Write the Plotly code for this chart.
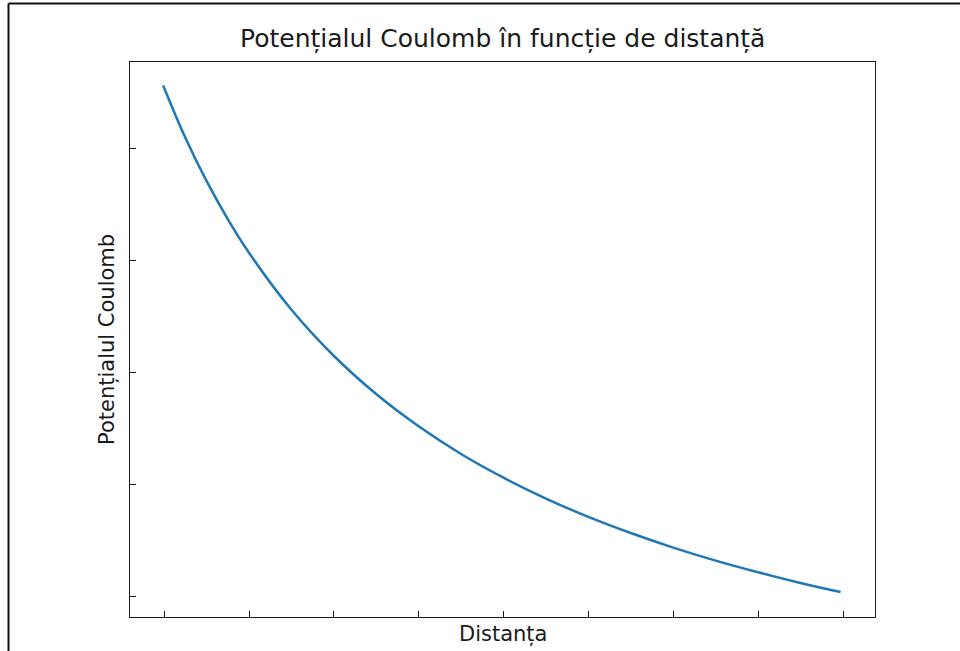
import plotly.graph_objects as go

# Distance samples (axis units, ticks at 1..9) and the potential
distance = [0.99, 1.25, 1.5, 1.75, 2.0, 2.5, 3.0, 3.5, 4.0, 4.5, 5.0,
            5.5, 6.0, 6.5, 7.0, 7.5, 8.0, 8.5, 8.96]
potential = [5.559, 5.094, 4.706, 4.366, 4.065, 3.556, 3.143, 2.801, 2.513,
             2.266, 2.054, 1.868, 1.704, 1.560, 1.430, 1.314, 1.210, 1.114, 1.035]

x_ticks = [1, 2, 3, 4, 5, 6, 7, 8, 9]
y_ticks = [1, 2, 3, 4, 5]

title_text = "Potențialul Coulomb în funcție de distanță"
x_label = "Distanța"
y_label = "Potențialul Coulomb"

FONT = "DejaVu Sans"
L, R, T, B = 130, 85, 62, 34
W, H = 960, 651
PW, PH = W - L - R, H - T - B


def px(x):
    return (x - L) / PW


def py(y):
    return (H - B - y) / PH


fig = go.Figure()
fig.add_trace(go.Scatter(
    x=distance, y=potential, mode="lines",
    line=dict(color="#1f77b4", width=2.5, shape="spline"),
    showlegend=False, hoverinfo="skip",
))

axis_common = dict(
    showgrid=False, zeroline=False, showline=True, linecolor="#1a1a1a",
    linewidth=1.3, mirror=True, ticks="inside", ticklen=6, tickwidth=1.3,
    tickcolor="#1a1a1a", showticklabels=False, fixedrange=True,
)

fig.update_layout(
    width=W, height=H,
    margin=dict(l=L, r=R, t=T, b=B, pad=0),
    paper_bgcolor="white", plot_bgcolor="white",
    xaxis=dict(range=[0.6, 9.365], tickvals=x_ticks, **axis_common),
    yaxis=dict(range=[0.8125, 5.768], tickvals=y_ticks, **axis_common),
    font=dict(family=FONT, color="#000000"),
    annotations=[
        dict(text=title_text, xref="paper", yref="paper", x=0.5, y=py(38),
             xanchor="center", yanchor="middle", showarrow=False,
             font=dict(family=FONT, size=25, color="#1a1a1a")),
        dict(text=x_label, xref="paper", yref="paper", x=0.5, y=py(634),
             xanchor="center", yanchor="middle", showarrow=False,
             font=dict(family=FONT, size=21, color="#1a1a1a")),
        dict(text=y_label, xref="paper", yref="paper", x=px(107), y=py(340),
             xanchor="center", yanchor="middle", showarrow=False, textangle=-90,
             font=dict(family=FONT, size=21, color="#1a1a1a")),
    ],
    shapes=[
        # outer figure frame (left and top edges)
        dict(type="line", xref="paper", yref="paper",
             x0=px(8.5), x1=px(8.5), y0=py(3.5), y1=py(660),
             line=dict(color="#111111", width=2)),
        dict(type="line", xref="paper", yref="paper",
             x0=px(8.5), x1=px(970), y0=py(3.5), y1=py(3.5),
             line=dict(color="#111111", width=2)),
    ],
)

fig.write_html("out.html")
